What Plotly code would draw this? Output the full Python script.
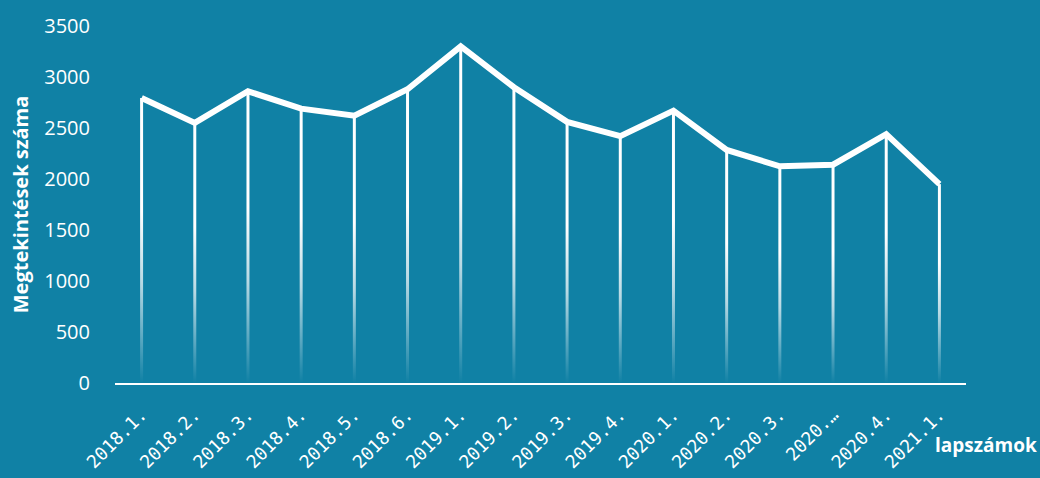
import plotly.graph_objects as go

categories = ["2018.1.", "2018.2.", "2018.3.", "2018.4.", "2018.5.", "2018.6.",
              "2019.1.", "2019.2.", "2019.3.", "2019.4.", "2020.1.", "2020.2.",
              "2020.3.", "2020.…", "2020.4.", "2021.1."]
views = [2795, 2550, 2860, 2690, 2620, 2880, 3300, 2900, 2560, 2420, 2670, 2285,
         2125, 2140, 2440, 1950]
y_ticks = [0, 500, 1000, 1500, 2000, 2500, 3000, 3500]

BG = "#1081a5"
idx = list(range(len(categories)))
half_w = 0.028  # half width of drop lines in category units

fig = go.Figure()

# gradient drop lines
for i, v in zip(idx, views):
    fig.add_trace(go.Scatter(
        x=[i - half_w, i + half_w, i + half_w, i - half_w, i - half_w],
        y=[0, 0, v, v, 0],
        mode="lines", line=dict(width=0),
        fill="toself",
        fillgradient=dict(type="vertical",
                          colorscale=[[0, "rgba(255,255,255,0)"],
                                      [0.35, "rgba(255,255,255,0.7)"],
                                      [0.6, "rgba(255,255,255,1)"],
                                      [1, "rgba(255,255,255,1)"]]),
        hoverinfo="skip", showlegend=False))

fig.add_trace(go.Scatter(
    x=idx, y=views, mode="lines",
    line=dict(color="white", width=6),
    showlegend=False))

fig.update_layout(
    width=1040, height=478,
    paper_bgcolor=BG, plot_bgcolor=BG,
    margin=dict(l=115, r=74, t=26, b=95, autoexpand=False),
    font=dict(family="Open Sans", color="white"),
    xaxis=dict(
        tickmode="array", tickvals=idx, ticktext=categories,
        range=[-0.5, len(categories) - 0.5],
        tickangle=-45, automargin=False,
        tickfont=dict(family="DejaVu Sans Mono", size=18, color="white"),
        showgrid=False, zeroline=False,
        showline=True, linecolor="white", linewidth=2,
        ticks="outside", ticklen=12, tickcolor="rgba(0,0,0,0)",
        fixedrange=True),
    yaxis=dict(
        range=[0, 3500], tickvals=y_ticks, automargin=False,
        tickfont=dict(family="Open Sans", size=20, color="white"),
        showgrid=False, zeroline=False, showline=False,
        ticks="outside", ticklen=20, tickcolor="rgba(0,0,0,0)",
        title=dict(text="<b>Megtekintések száma</b>",
                   font=dict(family="Open Sans", size=20, color="white"),
                   standoff=10)),
    annotations=[dict(
        text="<b>lapszámok</b>", xref="paper", yref="paper",
        x=0.961, y=-0.174, xanchor="left", yanchor="middle",
        showarrow=False,
        font=dict(family="Open Sans", size=19, color="white"))],
)

fig.write_html("out.html")
